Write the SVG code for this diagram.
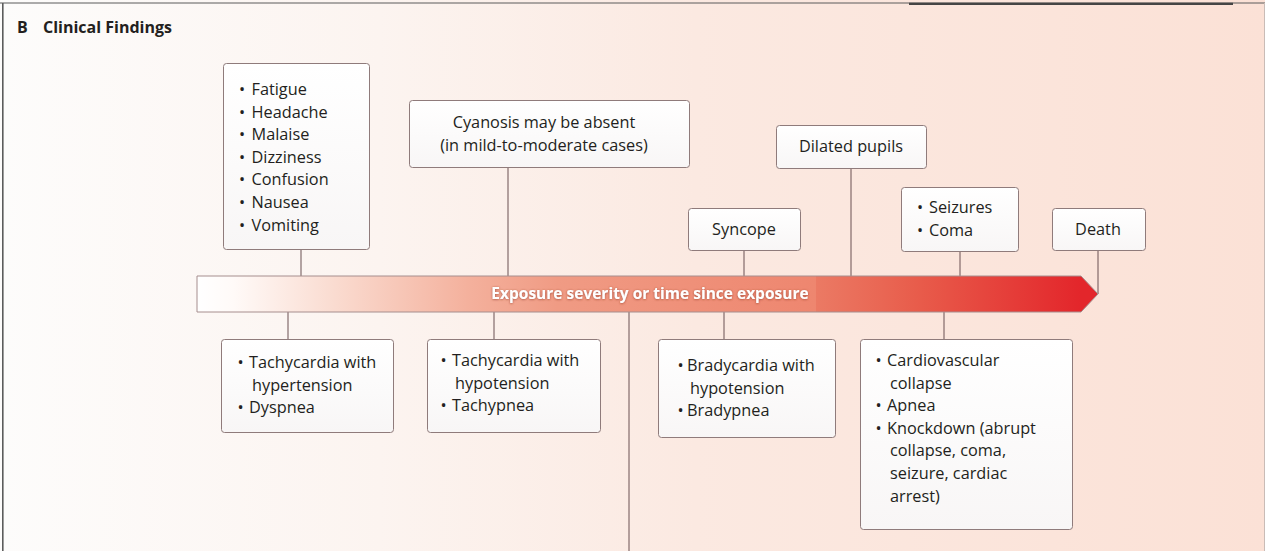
<svg xmlns="http://www.w3.org/2000/svg" width="1265" height="551" viewBox="0 0 1265 551">
  <defs>
    <linearGradient id="bg" x1="0" y1="0" x2="1265" y2="0" gradientUnits="userSpaceOnUse">
      <stop offset="0" stop-color="#fdfcfb"/>
      <stop offset="0.3" stop-color="#fcf4f0"/>
      <stop offset="0.55" stop-color="#fbe9e1"/>
      <stop offset="1" stop-color="#fbe1d6"/>
    </linearGradient>
    <linearGradient id="bar" x1="197" y1="0" x2="1098" y2="0" gradientUnits="userSpaceOnUse">
      <stop offset="0" stop-color="#ffffff"/>
      <stop offset="0.04" stop-color="#fffaf8"/>
      <stop offset="0.15" stop-color="#fadcd1"/>
      <stop offset="0.3" stop-color="#f4b19d"/>
      <stop offset="0.4" stop-color="#f09b84"/>
      <stop offset="0.687" stop-color="#ee866f"/>
      <stop offset="0.687" stop-color="#eb7a64"/>
      <stop offset="0.8" stop-color="#e85c4b"/>
      <stop offset="0.98" stop-color="#e3262b"/>
      <stop offset="1" stop-color="#e3262b"/>
    </linearGradient>
    <linearGradient id="box" x1="0" y1="0" x2="0" y2="1">
      <stop offset="0" stop-color="#ffffff"/>
      <stop offset="1" stop-color="#f8f6f6"/>
    </linearGradient>
    <filter id="glow" x="-5%" y="-40%" width="110%" height="180%">
      <feDropShadow dx="0" dy="0.5" stdDeviation="1.3" flood-color="#8a3320" flood-opacity="0.75"/>
    </filter>
  </defs>
  <style>
    .box { fill: url(#box); stroke: #8f7b7b; stroke-width: 1; }
    .t { font-family: "Open Sans", Lato, sans-serif; font-size: 16.3px; fill: #231f20; }
    .c { text-anchor: middle; }
    .b { font-family: "Open Sans", Lato, sans-serif; font-weight: bold; fill: #231f20; }
    .con line { stroke: #6a5052; stroke-width: 1; }
  </style>

  <rect x="0" y="0" width="1265" height="551" fill="url(#bg)"/>
  <line x1="0" y1="3" x2="1265" y2="3" stroke="#5a5a5a" stroke-width="1"/>
  <line x1="909" y1="3.8" x2="1233" y2="3.8" stroke="#454545" stroke-width="2.2"/>
  <line x1="2.8" y1="3" x2="2.8" y2="551" stroke="#5c5c5c" stroke-width="1.6"/>
  <line x1="1264.5" y1="3" x2="1264.5" y2="551" stroke="#c9bcb7" stroke-width="1"/>

  <text class="b" x="17" y="33" font-size="16">B</text>
  <text class="b" x="43" y="33" font-size="16">Clinical Findings</text>

  <g class="con">
    <line x1="301" y1="249" x2="301" y2="276"/>
    <line x1="508" y1="167" x2="508" y2="276"/>
    <line x1="744" y1="250" x2="744" y2="276"/>
    <line x1="851" y1="168" x2="851" y2="276"/>
    <line x1="960" y1="251" x2="960" y2="276"/>
    <line x1="1098" y1="250" x2="1098" y2="294"/>
    <line x1="288" y1="312" x2="288" y2="339"/>
    <line x1="494" y1="312" x2="494" y2="339"/>
    <line x1="629" y1="312" x2="629" y2="551"/>
    <line x1="724" y1="312" x2="724" y2="339"/>
    <line x1="944" y1="312" x2="944" y2="339"/>
  </g>

  <g id="timeline">
    <polygon points="197,276 1081,276 1098,294 1081,312 197,312" fill="url(#bar)" stroke="#a68e8e" stroke-width="1"/>
    <text class="b" x="650" y="299" text-anchor="middle" filter="url(#glow)" font-size="15.5" style="fill:#ffffff">Exposure severity or time since exposure</text>
  </g>

  <g id="n-early">
    <rect class="box" x="223.5" y="63.5" width="146" height="186" rx="3"/>
    <text class="t" x="239" y="95"><tspan>•</tspan><tspan x="251.5">Fatigue</tspan></text>
    <text class="t" x="239" y="117.6"><tspan>•</tspan><tspan x="251.5">Headache</tspan></text>
    <text class="t" x="239" y="140.2"><tspan>•</tspan><tspan x="251.5">Malaise</tspan></text>
    <text class="t" x="239" y="162.8"><tspan>•</tspan><tspan x="251.5">Dizziness</tspan></text>
    <text class="t" x="239" y="185.4"><tspan>•</tspan><tspan x="251.5">Confusion</tspan></text>
    <text class="t" x="239" y="208"><tspan>•</tspan><tspan x="251.5">Nausea</tspan></text>
    <text class="t" x="239" y="230.6"><tspan>•</tspan><tspan x="251.5">Vomiting</tspan></text>
  </g>

  <g id="n-cyanosis">
    <rect class="box" x="409.5" y="100.5" width="280" height="67" rx="3"/>
    <text class="t c" x="544" y="128">Cyanosis may be absent</text>
    <text class="t c" x="544" y="150.5">(in mild-to-moderate cases)</text>
  </g>

  <g id="n-pupils">
    <rect class="box" x="776.5" y="125.5" width="150" height="43" rx="3"/>
    <text class="t c" x="851" y="152">Dilated pupils</text>
  </g>

  <g id="n-syncope">
    <rect class="box" x="688.5" y="208.5" width="112" height="42" rx="3"/>
    <text class="t c" x="744" y="235">Syncope</text>
  </g>

  <g id="n-seizures">
    <rect class="box" x="901.5" y="187.5" width="117" height="64" rx="3"/>
    <text class="t" x="917" y="213"><tspan>•</tspan><tspan x="929">Seizures</tspan></text>
    <text class="t" x="917" y="235.6"><tspan>•</tspan><tspan x="929">Coma</tspan></text>
  </g>

  <g id="n-death">
    <rect class="box" x="1052.5" y="208.5" width="93" height="42" rx="3"/>
    <text class="t c" x="1098" y="235">Death</text>
  </g>

  <g id="n-tachy-hyper">
    <rect class="box" x="221.5" y="339.5" width="172" height="93" rx="3"/>
    <text class="t" x="237.5" y="368"><tspan>•</tspan><tspan x="249">Tachycardia with</tspan></text>
    <text class="t" x="252" y="390.6">hypertension</text>
    <text class="t" x="237.5" y="413.2"><tspan>•</tspan><tspan x="249">Dyspnea</tspan></text>
  </g>

  <g id="n-tachy-hypo">
    <rect class="box" x="427.5" y="339.5" width="173" height="93" rx="3"/>
    <text class="t" x="440.5" y="366"><tspan>•</tspan><tspan x="452">Tachycardia with</tspan></text>
    <text class="t" x="455" y="388.6">hypotension</text>
    <text class="t" x="440.5" y="411.2"><tspan>•</tspan><tspan x="452">Tachypnea</tspan></text>
  </g>

  <g id="n-brady">
    <rect class="box" x="658.5" y="339.5" width="177" height="98" rx="3"/>
    <text class="t" x="677.5" y="371"><tspan>•</tspan><tspan x="687">Bradycardia with</tspan></text>
    <text class="t" x="690" y="393.6">hypotension</text>
    <text class="t" x="677.5" y="416.2"><tspan>•</tspan><tspan x="687">Bradypnea</tspan></text>
  </g>

  <g id="n-collapse">
    <rect class="box" x="860.5" y="339.5" width="212" height="190" rx="3"/>
    <text class="t" x="875.5" y="366"><tspan>•</tspan><tspan x="887">Cardiovascular</tspan></text>
    <text class="t" x="890" y="388.6">collapse</text>
    <text class="t" x="875.5" y="411.2"><tspan>•</tspan><tspan x="887">Apnea</tspan></text>
    <text class="t" x="875.5" y="433.8"><tspan>•</tspan><tspan x="887">Knockdown (abrupt</tspan></text>
    <text class="t" x="890" y="456.4">collapse, coma,</text>
    <text class="t" x="890" y="479">seizure, cardiac</text>
    <text class="t" x="890" y="501.6">arrest)</text>
  </g>
</svg>
